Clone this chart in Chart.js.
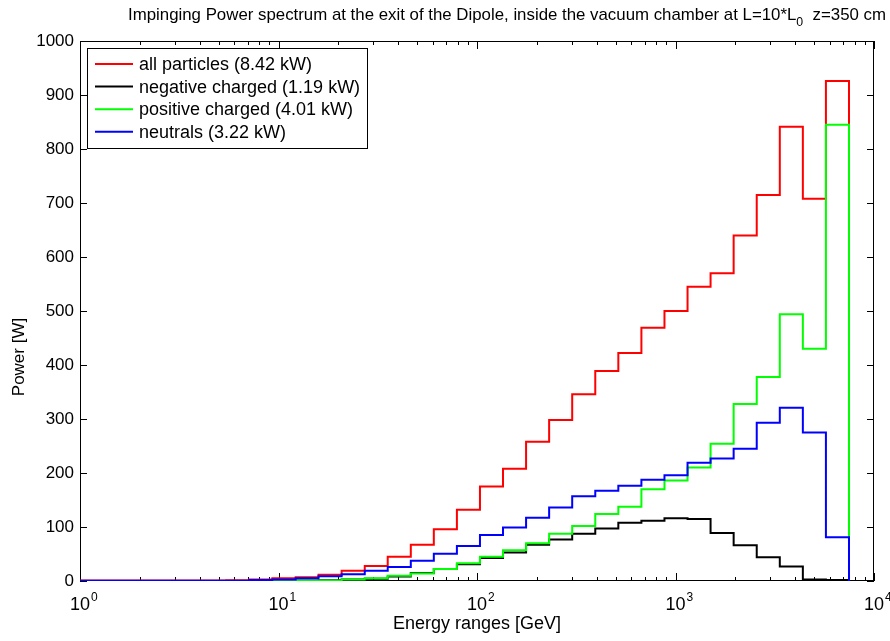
<!DOCTYPE html>
<html>
<head>
<meta charset="utf-8">
<script src="https://cdn.jsdelivr.net/npm/chart.js@4"></script>
<style>
  html, body { margin: 0; padding: 0; background: #fff; }
  #chart { display: block; }
</style>
</head>
<body>
<canvas id="chart" width="890" height="641"></canvas>
<script>
// bin edges of the energy spectrum [GeV]
const binEdges = [0.838, 1.095, 1.43, 1.87, 2.44, 3.19, 4.17, 5.45, 7.13, 9.31,
  12.2, 15.9, 20.8, 27.2, 35.5, 46.4, 60.6, 79.2, 103.5, 135.2,
  176.7, 230.9, 301.7, 394.3, 515.2, 673.3, 879.9, 1150, 1502, 1963,
  2566, 3353, 4381, 5725, 7482];

// power per bin [W]
const allParticles = [0.8, 0.8, 0.8, 0.8, 0.8, 0.9, 1, 1.3, 3, 5,
  6.8, 11.7, 19, 28, 45, 67, 96, 132, 175, 208,
  258, 298, 346, 389, 422, 469, 500, 545, 570, 640,
  715, 841, 708, 926];
const negCharged = [0.1, 0.1, 0.1, 0.1, 0.1, 0.1, 0.1, 0.2, 0.5, 1,
  1, 1.5, 3, 4, 8.5, 15, 22, 31, 42.6, 53,
  67, 77, 87.6, 97, 108, 111.7, 116, 115, 89, 66,
  44, 27, 3, 2];
const posCharged = [0.1, 0.1, 0.1, 0.1, 0.1, 0.1, 0.1, 0.1, 0.2, 0.5,
  0.8, 1, 3, 5, 9.5, 14, 22, 32.7, 45, 57,
  70, 87.7, 102, 124, 137.6, 170, 186, 210, 254, 328,
  378, 494, 430, 845];
const neutrals = [0.6, 0.6, 0.6, 0.6, 0.6, 0.6, 0.6, 0.6, 2, 3,
  5, 8.6, 12.3, 19, 26, 37.7, 50.6, 65, 85, 99,
  117, 136, 157, 167, 176.5, 187.6, 196, 219, 227, 245,
  293, 321, 275, 81];

const seriesLabels = ['all particles (8.42 kW)', 'negative charged (1.19 kW)',
  'positive charged (4.01 kW)', 'neutrals (3.22 kW)'];
const seriesColors = ['#ff0000', '#000000', '#00ff00', '#0000ff'];

const yTicks = [0, 100, 200, 300, 400, 500, 600, 700, 800, 900, 1000];
const xDecades = [1, 10, 100, 1000, 10000];
const xExponents = ['0', '1', '2', '3', '4'];
const minorSteps = [2, 3, 4, 5, 6, 7, 8, 9];

const FONT = '"Liberation Sans", Arial, sans-serif';

// histogram outline: each point holds its value up to the next edge
function stepPoints(values) {
  const pts = values.map((v, i) => ({ x: binEdges[i], y: v }));
  pts.push({ x: binEdges[binEdges.length - 1], y: 0 });
  return pts;
}

const matlabAxes = {
  id: 'matlabAxes',
  // box and ticks go under the curves
  beforeDatasetsDraw(chart) {
    const ctx = chart.ctx;
    const a = chart.chartArea;
    const xs = chart.scales.x, ys = chart.scales.y;
    ctx.save();
    ctx.strokeStyle = '#000';
    ctx.lineWidth = 1;

    ctx.beginPath();
    xDecades.forEach((d, k) => {
      const steps = k < xDecades.length - 1 ? [1].concat(minorSteps) : [1];
      steps.forEach(m => {
        const px = Math.round(xs.getPixelForValue(d * m)) + 0.5;
        const len = m === 1 ? 8 : 4;
        ctx.moveTo(px, a.bottom);
        ctx.lineTo(px, a.bottom - len);
        ctx.moveTo(px, a.top);
        ctx.lineTo(px, a.top + len);
      });
    });
    yTicks.forEach(v => {
      const py = Math.round(ys.getPixelForValue(v)) + 0.5;
      ctx.moveTo(a.left, py);
      ctx.lineTo(a.left + 7, py);
      ctx.moveTo(a.right, py);
      ctx.lineTo(a.right - 7, py);
    });
    ctx.stroke();
    ctx.strokeRect(a.left + 0.5, a.top + 0.5, a.right - a.left - 1, a.bottom - a.top - 1);
    ctx.restore();
  },
  afterDatasetsDraw(chart) {
    const ctx = chart.ctx;
    const a = chart.chartArea;
    const xs = chart.scales.x, ys = chart.scales.y;
    ctx.save();

    // y tick labels
    ctx.fillStyle = '#000';
    ctx.font = '17px ' + FONT;
    ctx.textAlign = 'right';
    ctx.textBaseline = 'middle';
    yTicks.forEach(v => {
      ctx.fillText(String(v), a.left - 6, ys.getPixelForValue(v));
    });

    // x tick labels 10^n
    xDecades.forEach((d, k) => {
      const px = xs.getPixelForValue(d);
      ctx.font = '18px ' + FONT;
      ctx.textAlign = 'center';
      ctx.textBaseline = 'alphabetic';
      const w = ctx.measureText('10').width;
      ctx.fillText('10', px, 610);
      ctx.font = '12px ' + FONT;
      ctx.textAlign = 'left';
      ctx.fillText(xExponents[k], px + w / 2 + 1, 601);
    });

    // axis labels
    ctx.font = '18px ' + FONT;
    ctx.textAlign = 'center';
    ctx.fillText('Energy ranges [GeV]', (a.left + a.right) / 2, 629);
    ctx.save();
    ctx.translate(24, 357);
    ctx.rotate(-Math.PI / 2);
    ctx.font = '17px ' + FONT;
    ctx.fillText('Power [W]', 0, 0);
    ctx.restore();

    // title with subscript
    const t1 = 'Impinging Power spectrum at the exit of the Dipole, inside the vacuum chamber at L=10*L';
    const t2 = '0';
    const t3 = '  z=350 cm';
    ctx.font = '15px ' + FONT;
    const w1 = ctx.measureText(t1).width;
    ctx.font = '11px ' + FONT;
    const w2 = ctx.measureText(t2).width;
    ctx.font = '15px ' + FONT;
    const w3 = ctx.measureText(t3).width;
    const target = 758;
    const sx = target / (w1 + w2 + w3);
    ctx.save();
    ctx.translate(128, 20);
    ctx.scale(sx, 1.12);
    ctx.textAlign = 'left';
    ctx.fillText(t1, 0, 0);
    ctx.font = '11px ' + FONT;
    ctx.fillText(t2, w1, 5);
    ctx.font = '15px ' + FONT;
    ctx.fillText(t3, w1 + w2, 0);
    ctx.restore();

    // legend box
    const lx = 87, ly = 48, lw = 280, lh = 100;
    ctx.fillStyle = '#fff';
    ctx.fillRect(lx, ly, lw, lh);
    ctx.strokeStyle = '#000';
    ctx.lineWidth = 1;
    ctx.strokeRect(lx + 0.5, ly + 0.5, lw, lh);
    ctx.font = '18px ' + FONT;
    ctx.textAlign = 'left';
    ctx.textBaseline = 'middle';
    seriesLabels.forEach((lab, i) => {
      const ry = 64 + i * 22.6;
      ctx.strokeStyle = seriesColors[i];
      ctx.lineWidth = 2;
      ctx.beginPath();
      ctx.moveTo(95, ry);
      ctx.lineTo(133, ry);
      ctx.stroke();
      ctx.fillStyle = '#000';
      ctx.fillText(lab, 139, ry + 1);
    });
    ctx.restore();
  }
};

const seriesValues = [allParticles, negCharged, posCharged, neutrals];

new Chart(document.getElementById('chart'), {
  type: 'line',
  data: {
    datasets: seriesValues.map((vals, i) => ({
      label: seriesLabels[i],
      data: stepPoints(vals),
      borderColor: seriesColors[i],
      borderWidth: 2,
      pointRadius: 0,
      fill: false,
      stepped: true,
      order: 4 - i
    }))
  },
  options: {
    responsive: false,
    animation: false,
    devicePixelRatio: 1,
    layout: { padding: { left: 80, top: 41, right: 16, bottom: 60 } },
    scales: {
      x: { type: 'logarithmic', min: 1, max: 10000, display: false },
      y: { type: 'linear', min: 0, max: 1000, display: false }
    },
    plugins: {
      legend: { display: false },
      tooltip: { enabled: false }
    }
  },
  plugins: [matlabAxes]
});
</script>
</body>
</html>
